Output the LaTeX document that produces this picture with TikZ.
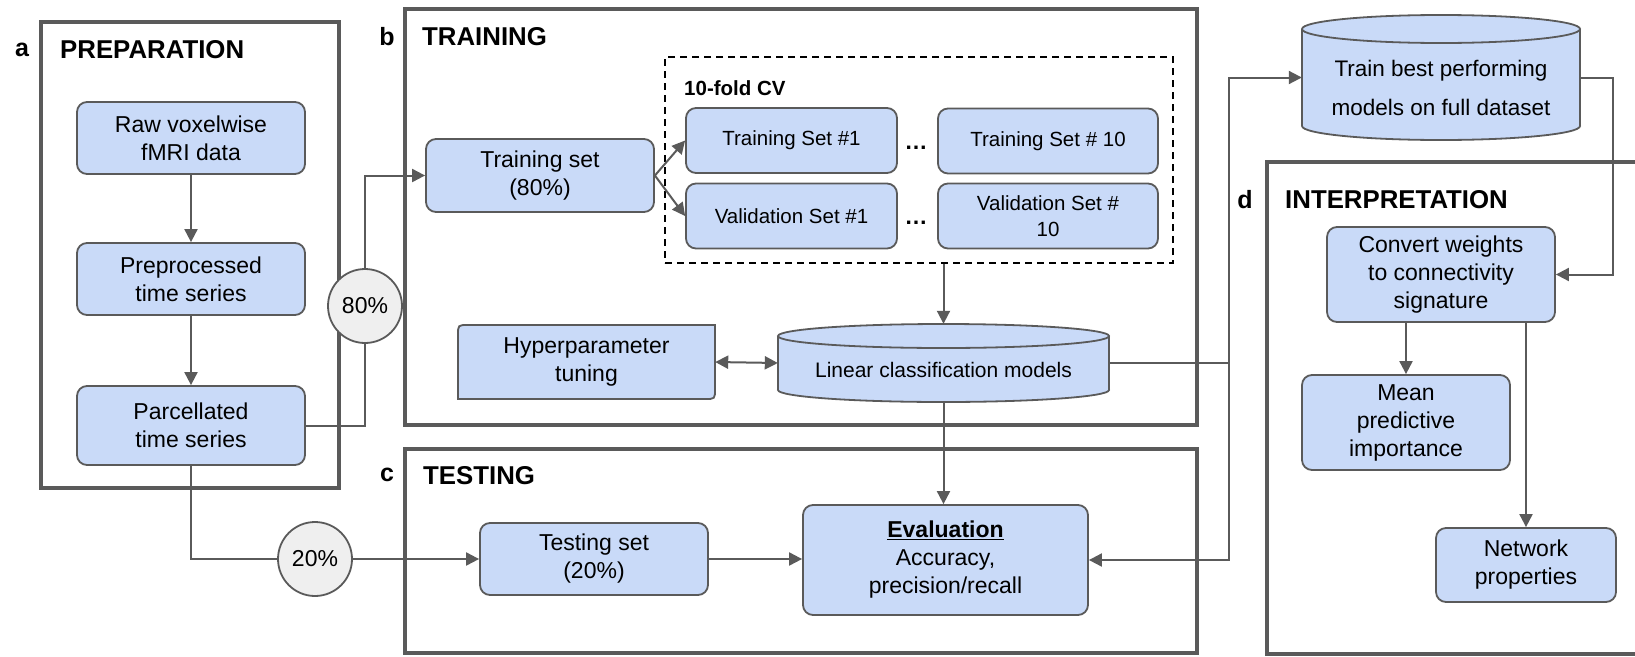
\documentclass[tikz,border=0pt]{standalone}
\usepackage{fontspec}
\setmainfont{Liberation Sans}
\usetikzlibrary{arrows.meta,calc}
\definecolor{boxblue}{HTML}{C9DAF8}
\definecolor{bdr}{HTML}{5A5A5A}
\definecolor{circfill}{HTML}{EFEFEF}
\newcommand\fs[2]{\fontsize{#1}{#2}\selectfont}
\begin{document}
\begin{tikzpicture}[x=1pt,y=-1pt,
  box/.style={draw=bdr, fill=boxblue, rounded corners=10pt, line width=1.8pt, align=center, inner sep=0pt, font=\fs{23}{28}},
  smallbox/.style={box, font=\fs{20.5}{26}, minimum height=65pt},
  panel/.style={draw=bdr, line width=3.2pt},
  conn/.style={draw=bdr, line width=2pt},
  arr/.style={conn, -{Triangle[length=13pt,width=13pt]}},
  darr/.style={conn, {Triangle[length=13pt,width=13pt]}-{Triangle[length=13pt,width=13pt]}},
  pct/.style={circle, draw=bdr, fill=circfill, line width=1.8pt, minimum size=74pt, inner sep=0pt, font=\fs{23}{28}},
  head/.style={font=\bfseries\fs{25.8}{30}, anchor=west, inner sep=0pt},
  lbl/.style={font=\bfseries\fs{25}{30}, inner sep=0pt},
  cylpart/.style={draw=bdr, fill=boxblue, line width=1.8pt},
]
\useasboundingbox (0,0) rectangle (1635,656);

% ---------- panels ----------
\draw[panel] (41,22) rectangle (339,488);
\draw[panel] (405,9) rectangle (1197,425);
\draw[panel] (405,449) rectangle (1197,653);
\draw[panel] (1640,162) -- (1267,162) -- (1267,654) -- (1640,654);

\node[lbl] (la) at (22,50) {a};
\node[head] (ha) at (60,50) {PREPARATION};
\node[lbl] (lb) at (387,37) {b};
\node[head] (hb) at (422,37) {TRAINING};
\node[lbl] (lc) at (387,475) {c};
\node[head] (hc) at (423,476) {TESTING};
\node[lbl] (ld) at (1245,200) {d};
\node[head] (hd) at (1285,200) {INTERPRETATION};

% ---------- preparation ----------
\node[box, minimum width=228pt, minimum height=72pt] (raw) at (191,138) {Raw voxelwise\\fMRI data};
\node[box, minimum width=228pt, minimum height=72pt] (pre) at (191,279) {Preprocessed\\time series};
\node[box, minimum width=228pt, minimum height=79pt] (par) at (191,425.5) {Parcellated\\time series};
\node[pct] (p80) at (365,306) {80\%};
\node[pct] (p20) at (315,559) {20\%};

% ---------- training ----------
\node[box, minimum width=228pt, minimum height=73pt] (trn) at (540,175.5) {Training set\\(80\%)};
\node[draw=black, dashed, dash pattern=on 7pt off 5pt, line width=1.8pt, minimum width=508pt, minimum height=206pt, inner sep=0pt] (cv) at (919,160) {};
\node[font=\bfseries\fs{20.5}{24}, anchor=west, inner sep=0pt] (cvt) at (684,88) {10-fold CV};
\node[smallbox, minimum width=211pt] (ts1) at (791.5,140.5) {Training Set \#1};
\node[smallbox, minimum width=220pt] (ts10) at (1048,141) {Training Set \# 10};
\node[smallbox, minimum width=211pt] (vs1) at (791.5,216) {Validation Set \#1};
\node[smallbox, minimum width=220pt] (vs10) at (1048,216) {Validation Set \#\\10};
\node[font=\bfseries\fs{23}{28}, anchor=base, inner sep=0pt] (dots1) at (916,149) {\ldots};
\node[font=\bfseries\fs{23}{28}, anchor=base, inner sep=0pt] (dots2) at (916,224) {\ldots};

% hyperparameter (two rounded corners)
\fill[boxblue] (458,335) .. controls (458,325) .. (468,325) -- (715,325) -- (715,389) .. controls (715,399) .. (705,399) -- (458,399) -- cycle;
\draw[bdr, line width=1.8pt] (458,335) .. controls (458,325) .. (468,325) -- (715,325) -- (715,389) .. controls (715,399) .. (705,399) -- (458,399) -- cycle;
\node[align=center, font=\fs{23}{28}, minimum width=257pt, minimum height=74pt, inner sep=0pt] (hyp) at (586.5,362) {Hyperparameter\\tuning};

% linear classification cylinder
\filldraw[cylpart] (943.5,390) ellipse [x radius=165.5pt, y radius=12pt];
\fill[boxblue] (778,336) rectangle (1109,390);
\draw[bdr, line width=1.8pt] (778,336) -- (778,390) (1109,336) -- (1109,390);
\filldraw[cylpart] (943.5,336) ellipse [x radius=165.5pt, y radius=12pt];
\node[minimum width=331pt, minimum height=78pt, inner sep=0pt] (lin) at (943.5,363) {};
\node[font=\fs{21}{26}, inner sep=0pt] (lintext) at (943.5,370) {Linear classification models};

% ---------- testing ----------
\node[box, minimum width=228pt, minimum height=72pt] (tst) at (594,559) {Testing set\\(20\%)};
\node[box, minimum width=285pt, minimum height=110pt] (ev) at (945.5,560) {\underline{\textbf{Evaluation}}\\Accuracy,\\precision/recall};

% ---------- best models cylinder ----------
\filldraw[cylpart] (1441,126) ellipse [x radius=139pt, y radius=14pt];
\fill[boxblue] (1302,29) rectangle (1580,126);
\draw[bdr, line width=1.8pt] (1302,29) -- (1302,126) (1580,29) -- (1580,126);
\filldraw[cylpart] (1441,29) ellipse [x radius=139pt, y radius=14pt];
\node[minimum width=278pt, minimum height=125pt, inner sep=0pt] (best) at (1441,77.5) {};
\node[align=center, font=\fs{22.5}{39}, inner sep=0pt] (besttext) at (1441,88) {Train best performing\\models on full dataset};

% ---------- interpretation ----------
\node[box, minimum width=228pt, minimum height=95pt] (conv) at (1441,274.5) {Convert weights\\to connectivity\\signature};
\node[box, minimum width=208pt, minimum height=95pt] (mean) at (1406,422.5) {Mean\\predictive\\importance};
\node[box, minimum width=180pt, minimum height=74pt] (net) at (1526,565) {Network\\properties};

\coordinate (jx) at (1229,0);
\coordinate (jr) at (1613,0);

% ---------- connectors ----------
\draw[arr] (raw.south) -- (pre.north);
\draw[arr] (pre.south) -- (par.north);
\draw[conn] (par.east) -- (par.east -| p80.south) -- (p80.south);
\draw[arr] (p80.north) -- (p80.north |- trn.west) -- (trn.west);
\draw[conn] (par.south) -- (par.south |- p20.west) -- (p20.west);
\draw[arr] (p20.east) -- (tst.west);
\draw[arr] (trn.east) -- (ts1.west);
\draw[arr] (trn.east) -- (vs1.west);
\draw[arr] (cv.south -| lin.north) -- (lin.north);
\draw[darr] (hyp.east) -- (lin.west);
\draw[arr] (lin.south) -- (lin.south |- ev.north);
\draw[arr] (tst.east) -- (ev.west |- tst.east);
\draw[conn] (lin.east) -- (lin.east -| jx);
\draw[arr] (jx |- ev.east) -- (jx |- best.west) -- (best.west);
\draw[arr] (jx |- lin.east) -- (jx |- ev.east) -- (ev.east);
\draw[arr] (best.east) -- (jr |- best.east) -- (jr |- conv.east) -- (conv.east);
\draw[arr] (conv.south -| mean.north) -- (mean.north);
\draw[arr] (conv.south -| net.north) -- (net.north);
\end{tikzpicture}
\end{document}
